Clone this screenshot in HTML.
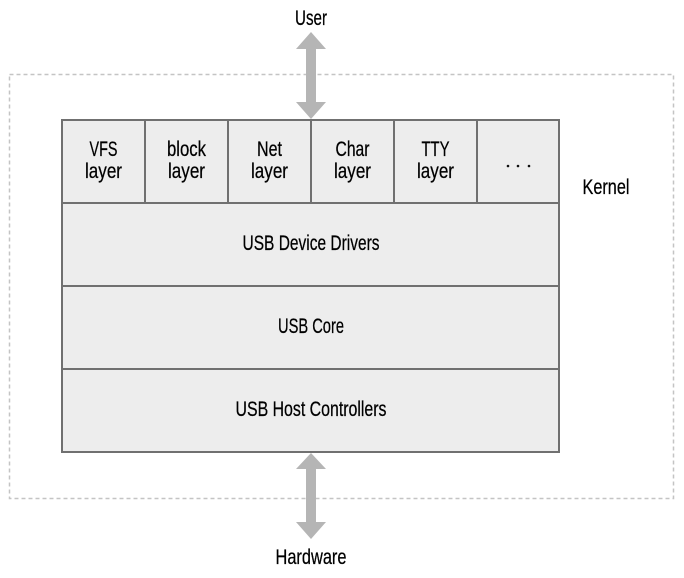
<!DOCTYPE html>
<html><head><meta charset="utf-8"><style>
html,body{margin:0;padding:0;background:#fff;}
svg{display:block}
text{font-family:"Liberation Sans Narrow","Liberation Sans",sans-serif;font-size:21px;fill:#000;text-anchor:middle;stroke:#000;stroke-width:0.25}
</style></head><body>
<svg width="684" height="578" viewBox="0 0 684 578" xmlns="http://www.w3.org/2000/svg">
<rect x="9.5" y="74.5" width="664" height="424" fill="none" stroke="#c4c4c4" stroke-width="1.5" stroke-dasharray="4,3"/>
<rect x="62" y="120" width="497" height="332" fill="#ededed" stroke="#707070" stroke-width="2"/>
<g stroke="#707070" stroke-width="2">
<line x1="62" y1="203" x2="559" y2="203"/>
<line x1="62" y1="286" x2="559" y2="286"/>
<line x1="62" y1="369" x2="559" y2="369"/>
<line x1="145" y1="120" x2="145" y2="203"/>
<line x1="228" y1="120" x2="228" y2="203"/>
<line x1="311" y1="120" x2="311" y2="203"/>
<line x1="394" y1="120" x2="394" y2="203"/>
<line x1="477" y1="120" x2="477" y2="203"/>
</g>
<polygon fill="#b5b5b5" points="311,32 326,49 316,49 316,102 326,102 311,119 296,102 306,102 306,49 296,49"/>
<polygon fill="#b5b5b5" points="311,453 326,469 316,469 316,522 326,522 311,539 296,522 306,522 306,469 296,469"/>
<text x="311" y="25" textLength="32" lengthAdjust="spacingAndGlyphs">User</text>
<text x="311" y="564" textLength="71" lengthAdjust="spacingAndGlyphs">Hardware</text>
<text x="606" y="194" textLength="47" lengthAdjust="spacingAndGlyphs">Kernel</text>
<text x="103.5" y="156" textLength="28" lengthAdjust="spacingAndGlyphs">VFS</text>
<text x="103.5" y="178" textLength="37" lengthAdjust="spacingAndGlyphs">layer</text>
<text x="186.5" y="156" textLength="39" lengthAdjust="spacingAndGlyphs">block</text>
<text x="186.5" y="178" textLength="37" lengthAdjust="spacingAndGlyphs">layer</text>
<text x="269.5" y="156" textLength="25" lengthAdjust="spacingAndGlyphs">Net</text>
<text x="269.5" y="178" textLength="37" lengthAdjust="spacingAndGlyphs">layer</text>
<text x="352.5" y="156" textLength="34" lengthAdjust="spacingAndGlyphs">Char</text>
<text x="352.5" y="178" textLength="37" lengthAdjust="spacingAndGlyphs">layer</text>
<text x="435.5" y="156" textLength="28" lengthAdjust="spacingAndGlyphs">TTY</text>
<text x="435.5" y="178" textLength="37" lengthAdjust="spacingAndGlyphs">layer</text>
<circle cx="508" cy="166" r="1.3" fill="#111"/>
<circle cx="518" cy="166" r="1.3" fill="#111"/>
<circle cx="529" cy="166" r="1.3" fill="#111"/>
<text x="311" y="250" textLength="137" lengthAdjust="spacingAndGlyphs">USB Device Drivers</text>
<text x="311" y="333" textLength="66" lengthAdjust="spacingAndGlyphs">USB Core</text>
<text x="311" y="416" textLength="151" lengthAdjust="spacingAndGlyphs">USB Host Controllers</text>
</svg>
</body></html>
